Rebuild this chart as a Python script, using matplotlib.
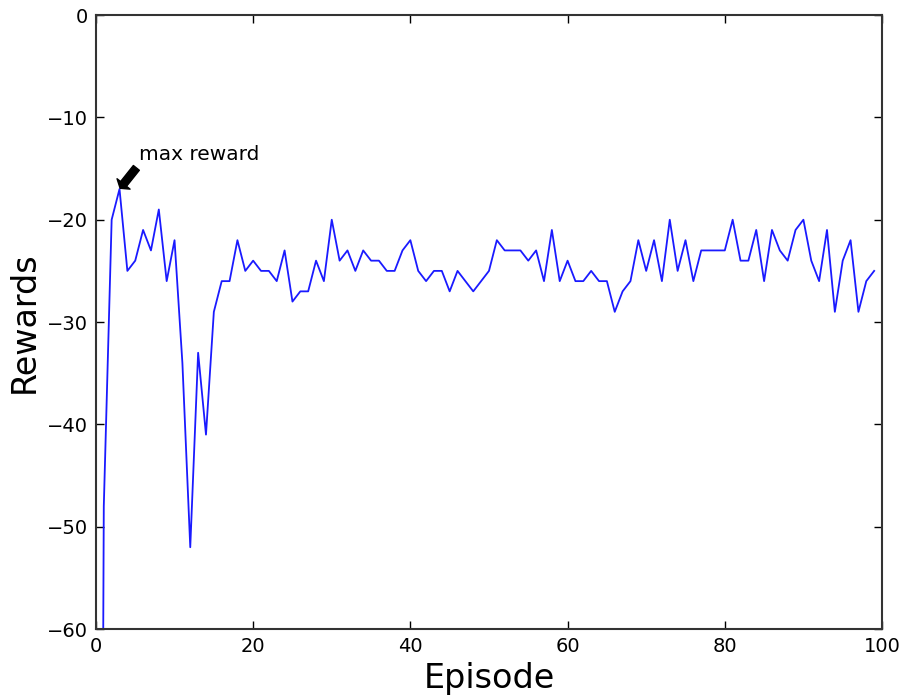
import matplotlib
matplotlib.use('Agg')
import matplotlib.pyplot as plt

# rewards per episode (episode 0 .. 99)
rewards = [-220, -48, -20, -17, -25, -24, -21, -23, -19, -26,
           -22, -34, -52, -33, -41, -29, -26, -26, -22, -25,
           -24, -25, -25, -26, -23, -28, -27, -27, -24, -26,
           -20, -24, -23, -25, -23, -24, -24, -25, -25, -23,
           -22, -25, -26, -25, -25, -27, -25, -26, -27, -26,
           -25, -22, -23, -23, -23, -24, -23, -26, -21, -26,
           -24, -26, -26, -25, -26, -26, -29, -27, -26, -22,
           -25, -22, -26, -20, -25, -22, -26, -23, -23, -23,
           -23, -20, -24, -24, -21, -26, -21, -23, -24, -21,
           -20, -24, -26, -21, -29, -24, -22, -29, -26, -25]
episodes = list(range(len(rewards)))

max_ep = 3
max_val = rewards[max_ep]

fig = plt.figure(figsize=(9.05, 6.99), dpi=100)
ax = fig.add_axes([0.106, 0.1, 0.8686, 0.8785])

ax.plot(episodes, rewards, color='#1a1aff', linewidth=1.3)
ax.annotate('max reward', xy=(max_ep, max_val), xytext=(5.5, -14.2),
            fontsize=14.5,
            arrowprops=dict(facecolor='black', width=5.5, headwidth=12,
                            headlength=4, shrink=0.03))

ax.set_xlim(0, 100)
ax.set_ylim(-60, 0)
ax.set_xticks(range(0, 101, 20))
ax.set_yticks(range(-60, 1, 10))
ax.tick_params(direction='in', top=True, right=True, length=6, width=1,
               labelsize=14, pad=6)
for s in ax.spines.values():
    s.set_linewidth(1.5)
    s.set_color('#333333')

ax.set_xlabel('Episode', fontsize=24)
ax.set_ylabel('Rewards', fontsize=24)

fig.savefig('out.png', dpi=100, facecolor='white')
